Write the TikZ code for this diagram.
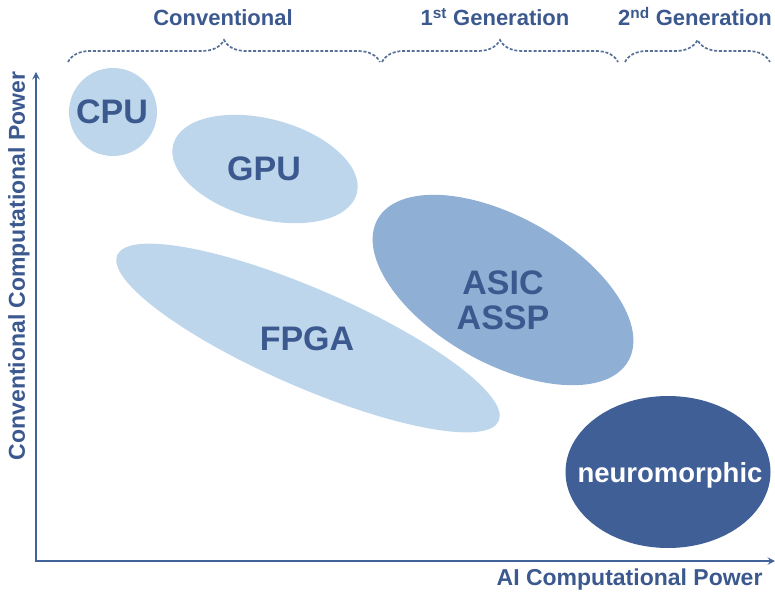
\documentclass[tikz,border=0pt]{standalone}
\usepackage{fontspec}
\setmainfont{Liberation Sans}
\usetikzlibrary{shapes.geometric,decorations.pathreplacing}
\definecolor{txtblue}{RGB}{59,89,142}
\definecolor{axisblue}{RGB}{66,98,154}
\definecolor{braceblue}{RGB}{88,112,152}
\definecolor{lightfill}{RGB}{190,214,235}
\definecolor{midfill}{RGB}{143,176,212}
\definecolor{darkfill}{RGB}{63,95,150}

\begin{document}
\begin{tikzpicture}[x=1pt,y=-1pt,>=stealth,
    blob/.style={ellipse,inner sep=0pt,draw=none},
    lbl/.style={text=txtblue,font=\bfseries\fontsize{34}{35}\selectfont,align=center},
    axislbl/.style={text=txtblue,font=\bfseries\fontsize{23}{26}\selectfont},
    toplbl/.style={text=txtblue,font=\bfseries\fontsize{22}{26}\selectfont,anchor=base},
    grp/.style={draw=braceblue,line width=1.7pt,dash pattern=on 3pt off 1.8pt,decorate,decoration={brace,amplitude=22pt}}]
    \useasboundingbox (0,0) rectangle (775,596);
    % the five families
    \node[blob,fill=lightfill,minimum size=88] (cpu) at (113,112) {};
    \node[blob,fill=lightfill,minimum width=190,minimum height=100,rotate=-15] (gpu) at (265,169) {};
    \node[blob,fill=lightfill,minimum width=416,minimum height=98,rotate=-23.5] (fpga) at (308,338) {};
    \node[blob,fill=midfill,minimum width=288,minimum height=146,rotate=-29.5] (asic) at (503,290) {};
    \node[blob,fill=darkfill,minimum width=205,minimum height=152] (neuro) at (668,472) {};
    \node[lbl] (cputxt) at (112,112) {CPU};
    \node[lbl] (gputxt) at (264,169) {GPU};
    \node[lbl] (fpgatxt) at (307,339) {FPGA};
    \node[lbl] (asictxt) at (503,300) {ASIC\\ASSP};
    \node[lbl,text=white,font=\bfseries\fontsize{27.5}{30}\selectfont] (neurotxt) at (670,475) {neuromorphic};
    % axes
    \coordinate (o) at (36,561);
    \coordinate (ytip) at (36,72);
    \coordinate (xtip) at (775,561);
    \draw[<->,axisblue,line width=2.2pt] (ytip) -- (o) -- (xtip);
    \node[axislbl,rotate=90] (ylab) at (19,266) {Conventional Computational Power};
    \node[axislbl,anchor=east] (xlab) at (766,580) {AI Computational Power};
    % generations on top
    \coordinate (b1l) at (68,62);
    \coordinate (b1r) at (380,62);
    \coordinate (b2l) at (382,62);
    \coordinate (b2r) at (618,62);
    \coordinate (b3l) at (625,62);
    \coordinate (b3r) at (770,62);
    \draw[grp] (b1l) -- (b1r);
    \draw[grp] (b2l) -- (b2r);
    \draw[grp] (b3l) -- (b3r);
    \node[toplbl] (conv) at (223,26) {Conventional};
    \node[toplbl] (gen1) at (495,26) {1\textsuperscript{st} Generation};
    \node[toplbl] (gen2) at (695,26) {2\textsuperscript{nd} Generation};
\end{tikzpicture}
\end{document}
